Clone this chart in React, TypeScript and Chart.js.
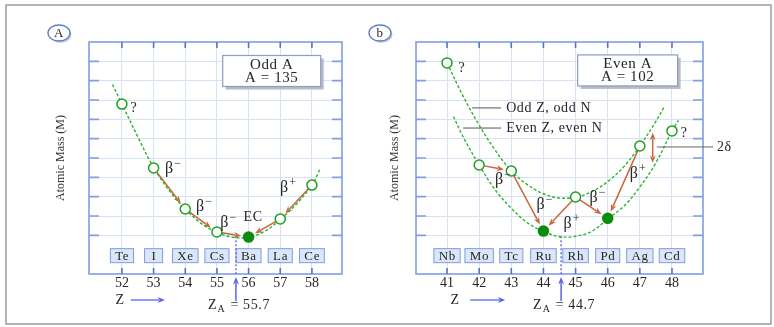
import React, { useEffect, useRef } from 'react';
import { Chart, registerables } from 'chart.js';

Chart.register(...registerables);

const W = 774;
const H = 327;
const FONT = "'Liberation Serif', 'Times New Roman', serif";

// ---------- Panel A : odd A = 135 ----------
const zTicksA = [52, 53, 54, 55, 56, 57, 58];
const elementsA = ['Te', 'I', 'Xe', 'Cs', 'Ba', 'La', 'Ce'];
const massA = [8.79, 5.48, 3.36, 2.17, 1.91, 2.85, 4.6];
const stableA = [false, false, false, false, true, false, false];
const curveAz = [51.7, 52, 52.5, 53, 53.5, 54, 54.5, 55, 55.5, 56, 56.5, 57, 57.5, 58, 58.25];
const curveAm = [9.8, 8.79, 7.1, 5.5, 4.3, 3.36, 2.62, 2.15, 1.9, 1.9, 2.2, 2.82, 3.6, 4.6, 5.4];
const arrowsA = [[1, 2], [2, 3], [3, 4], [6, 5], [5, 4]];
const zAValueA = '55.7';
const zAMarkA = 55.6;

// ---------- Panel B : even A = 102 ----------
const zTicksB = [41, 42, 43, 44, 45, 46, 47, 48];
const elementsB = ['Nb', 'Mo', 'Tc', 'Ru', 'Rh', 'Pd', 'Ag', 'Cd'];
const massB = [10.92, 5.64, 5.33, 2.22, 3.98, 2.88, 6.62, 7.4];
const stableB = [false, false, false, true, false, true, false, false];
const oddOddZ = [41, 41.5, 42, 42.5, 43, 43.5, 44, 44.5, 45, 45.5, 46, 46.5, 47, 47.5, 47.75];
const oddOddM = [10.92, 9.2, 7.7, 6.4, 5.33, 4.62, 4.15, 3.93, 3.97, 4.25, 4.78, 5.55, 6.62, 7.9, 8.62];
const evenEvenZ = [41.2, 41.5, 42, 42.5, 43, 43.5, 44, 44.5, 45, 45.5, 46, 46.5, 47, 47.5, 48, 48.2];
const evenEvenM = [8.15, 7.1, 5.64, 4.35, 3.4, 2.65, 2.2, 1.93, 1.95, 2.2, 2.85, 3.5, 4.5, 5.75, 7.4, 7.95];
const arrowsB = [[1, 2], [2, 3], [4, 3], [4, 5], [6, 5]];
const zAValueB = '44.7';
const zAMarkB = 44.55;

const massGrid = [2, 3, 4, 5, 6, 7, 8, 9, 10, 11];
const massMin = 0;
const massMax = 12;

// ---------- styles ----------
const GRID = '#d7e2f6';
const BORDER = '#819ee3';
const TICK_DARK = '#5474cc';
const GREEN = '#1f9f1f';
const GREEN_FILL = '#0b8c0e';
const CURVE = '#2db42d';
const ARROW = '#c9663f';
const BLUE = '#5563ee';
const TEXT = '#262626';

type Label = { sign?: string; text?: string; z: number; m: number };

type Panel = {
  id: string;
  letter: string;
  letterDx: number;
  frame: boolean;
  zTicks: number[];
  elements: string[];
  mass: number[];
  stable: boolean[];
  curves: { z: number[]; m: number[] }[];
  arrows: number[][];
  labels: Label[];
  title: string[];
  titleBox: { z: number; m: number; w: number; h: number };
  zMin: number;
  zMax: number;
  padLeft: number;
  padRight: number;
  yWidth: number;
  zAMark: number;
  zAValue: string;
  zLabel: number;
  zArrow: [number, number];
  extras?: boolean;
};

const panelA: Panel = {
  id: 'A',
  letter: 'A',
  letterDx: -30,
  frame: true,
  zTicks: zTicksA,
  elements: elementsA,
  mass: massA,
  stable: stableA,
  curves: [{ z: curveAz, m: curveAm }],
  arrows: arrowsA,
  labels: [
    { text: '?', z: 52.38, m: 8.55 },
    { sign: '−', z: 53.61, m: 5.48 },
    { sign: '−', z: 54.59, m: 3.52 },
    { sign: '−', z: 55.35, m: 2.69 },
    { text: 'EC', z: 56.14, m: 2.95 },
    { sign: '+', z: 57.24, m: 4.5 },
  ],
  title: ['Odd A', 'A = 135'],
  titleBox: { z: 56.73, m: 10.5, w: 98, h: 31 },
  zMin: 50.96,
  zMax: 58.95,
  padLeft: 52,
  padRight: W - 342,
  yWidth: 37,
  zAMark: zAMarkA,
  zAValue: zAValueA,
  zLabel: 51.94,
  zArrow: [52.28, 53.36],
};

const panelB: Panel = {
  id: 'B',
  letter: 'b',
  letterDx: -36,
  frame: false,
  zTicks: zTicksB,
  elements: elementsB,
  mass: massB,
  stable: stableB,
  curves: [
    { z: oddOddZ, m: oddOddM },
    { z: evenEvenZ, m: evenEvenM },
  ],
  arrows: arrowsB,
  labels: [
    { text: '?', z: 41.46, m: 10.62 },
    { text: '?', z: 48.38, m: 7.27 },
    { sign: '−', z: 42.74, m: 4.91 },
    { sign: '−', z: 44.03, m: 3.62 },
    { sign: '+', z: 44.87, m: 2.64 },
    { sign: '−', z: 45.68, m: 3.98 },
    { sign: '+', z: 46.93, m: 5.23 },
  ],
  title: ['Even A', 'A = 102'],
  titleBox: { z: 46.62, m: 10.53, w: 100, h: 31 },
  zMin: 40.035,
  zMax: 48.965,
  padLeft: 386,
  padRight: W - 703,
  yWidth: 30,
  zAMark: zAMarkB,
  zAValue: zAValueB,
  zLabel: 41.25,
  zArrow: [41.72, 42.81],
  extras: true,
};

function arrow(ctx: CanvasRenderingContext2D, x1: number, y1: number, x2: number, y2: number, color: string, head = 8, width = 1.5) {
  const ang = Math.atan2(y2 - y1, x2 - x1);
  ctx.save();
  ctx.strokeStyle = color;
  ctx.fillStyle = color;
  ctx.lineWidth = width;
  ctx.setLineDash([]);
  ctx.beginPath();
  ctx.moveTo(x1, y1);
  ctx.lineTo(x2 - Math.cos(ang) * head * 0.7, y2 - Math.sin(ang) * head * 0.7);
  ctx.stroke();
  ctx.beginPath();
  ctx.moveTo(x2, y2);
  ctx.lineTo(x2 - head * Math.cos(ang - 0.38), y2 - head * Math.sin(ang - 0.38));
  ctx.lineTo(x2 - head * 0.65 * Math.cos(ang), y2 - head * 0.65 * Math.sin(ang));
  ctx.lineTo(x2 - head * Math.cos(ang + 0.38), y2 - head * Math.sin(ang + 0.38));
  ctx.closePath();
  ctx.fill();
  ctx.restore();
}

function beta(ctx: CanvasRenderingContext2D, x: number, y: number, sign: string) {
  ctx.save();
  ctx.fillStyle = TEXT;
  ctx.textBaseline = 'middle';
  ctx.textAlign = 'left';
  ctx.font = `16px ${FONT}`;
  const w = ctx.measureText('β').width;
  const x0 = x - (w + 7) / 2;
  ctx.fillText('β', x0, y + 1);
  ctx.font = `12px ${FONT}`;
  ctx.fillText(sign, x0 + w + 0.5, y - 4);
  ctx.restore();
}

function makePlugin(p: Panel) {
  return {
    id: 'annot' + p.id,
    beforeDraw(chart: any) {
      if (!p.frame) return;
      const ctx = chart.ctx as CanvasRenderingContext2D;
      ctx.save();
      ctx.fillStyle = '#ffffff';
      ctx.fillRect(0, 0, W, H);
      ctx.strokeStyle = '#9d9d9d';
      ctx.lineWidth = 1.5;
      ctx.strokeRect(6, 5, 765, 319);
      ctx.restore();
    },
    beforeDatasetsDraw(chart: any) {
      const ctx = chart.ctx as CanvasRenderingContext2D;
      const { left, right, top, bottom } = chart.chartArea;
      const xs = chart.scales.x;
      const ys = chart.scales.y;
      ctx.save();
      // plot border
      ctx.strokeStyle = BORDER;
      ctx.lineWidth = 1.6;
      ctx.strokeRect(left, top, right - left, bottom - top);
      // inward ticks top / bottom
      ctx.strokeStyle = TICK_DARK;
      p.zTicks.forEach((z) => {
        const px = xs.getPixelForValue(z);
        ctx.beginPath();
        ctx.moveTo(px, top);
        ctx.lineTo(px, top + 6);
        ctx.moveTo(px, bottom);
        ctx.lineTo(px, bottom - 6);
        ctx.stroke();
      });
      // inward ticks left / right
      ctx.strokeStyle = BORDER;
      massGrid.forEach((m) => {
        const py = ys.getPixelForValue(m);
        ctx.beginPath();
        ctx.moveTo(left, py);
        ctx.lineTo(left + 10, py);
        ctx.moveTo(right, py);
        ctx.lineTo(right - 10, py);
        ctx.stroke();
      });
      // element boxes
      ctx.font = `13px ${FONT}`;
      ctx.letterSpacing = '0.7px';
      ctx.textAlign = 'center';
      ctx.textBaseline = 'middle';
      p.elements.forEach((el, i) => {
        const px = xs.getPixelForValue(p.zTicks[i]);
        const py = ys.getPixelForValue(1) + 1;
        const tw = ctx.measureText(el).width;
        const bw = Math.max(tw + 9, 18);
        ctx.fillStyle = '#dbe6f9';
        ctx.fillRect(px - bw / 2, py - 7, bw, 14);
        ctx.strokeStyle = '#7f9cdc';
        ctx.lineWidth = 1;
        ctx.strokeRect(px - bw / 2, py - 7, bw, 14);
        ctx.fillStyle = TEXT;
        ctx.fillText(el, px + 0.3, py + 0.5);
      });
      ctx.letterSpacing = '0px';
      // Z_A dotted line
      const mx = xs.getPixelForValue(p.zAMark);
      ctx.strokeStyle = '#6b6bf2';
      ctx.lineWidth = 1.5;
      ctx.setLineDash([2, 2]);
      ctx.beginPath();
      ctx.moveTo(mx, ys.getPixelForValue(1.95));
      ctx.lineTo(mx, bottom);
      ctx.stroke();
      ctx.setLineDash([]);
      // decay arrows
      p.arrows.forEach(([a, b]) => {
        const x1 = xs.getPixelForValue(p.zTicks[a]);
        const y1 = ys.getPixelForValue(p.mass[a]);
        const x2 = xs.getPixelForValue(p.zTicks[b]);
        const y2 = ys.getPixelForValue(p.mass[b]);
        const d = Math.hypot(x2 - x1, y2 - y1);
        const ux = (x2 - x1) / d;
        const uy = (y2 - y1) / d;
        arrow(ctx, x1 + ux * 5, y1 + uy * 5, x2 - ux * 7.5, y2 - uy * 7.5, ARROW);
      });
      ctx.restore();
    },
    afterDatasetsDraw(chart: any) {
      const ctx = chart.ctx as CanvasRenderingContext2D;
      const { left, top, bottom } = chart.chartArea;
      const xs = chart.scales.x;
      const ys = chart.scales.y;
      ctx.save();
      ctx.letterSpacing = '0.6px';
      // labels
      p.labels.forEach((l) => {
        const px = xs.getPixelForValue(l.z);
        const py = ys.getPixelForValue(l.m);
        if (l.sign) {
          beta(ctx, px, py, l.sign);
        } else {
          ctx.fillStyle = TEXT;
          ctx.font = `14px ${FONT}`;
          ctx.textAlign = 'center';
          ctx.textBaseline = 'middle';
          ctx.fillText(l.text || '', px, py);
        }
      });
      // title box
      const bx = xs.getPixelForValue(p.titleBox.z);
      const by = ys.getPixelForValue(p.titleBox.m);
      const { w, h } = p.titleBox;
      ctx.fillStyle = '#b9bcc4';
      ctx.fillRect(bx - w / 2 + 3, by - h / 2 + 3, w, h);
      ctx.fillStyle = '#ffffff';
      ctx.fillRect(bx - w / 2, by - h / 2, w, h);
      ctx.strokeStyle = '#8c9cc2';
      ctx.lineWidth = 1.2;
      ctx.strokeRect(bx - w / 2, by - h / 2, w, h);
      ctx.fillStyle = TEXT;
      ctx.font = `15px ${FONT}`;
      ctx.textAlign = 'center';
      ctx.textBaseline = 'middle';
      ctx.fillText(p.title[0], bx, by - 6);
      ctx.fillText(p.title[1], bx, by + 7);

      if (p.extras) {
        // curve legend
        ctx.font = `14px ${FONT}`;
        ctx.strokeStyle = '#555';
        ctx.lineWidth = 1;
        const tx = xs.getPixelForValue(42.84);
        const l1 = ys.getPixelForValue(8.59);
        const l2 = ys.getPixelForValue(7.55);
        ctx.beginPath();
        ctx.moveTo(xs.getPixelForValue(41.78), l1);
        ctx.lineTo(xs.getPixelForValue(42.68), l1);
        ctx.moveTo(xs.getPixelForValue(41.5), l2);
        ctx.lineTo(xs.getPixelForValue(42.68), l2);
        ctx.stroke();
        ctx.textAlign = 'left';
        ctx.fillText('Odd Z, odd N', tx, l1);
        ctx.fillText('Even Z, even N', tx, l2);
        // 2δ
        const dx = xs.getPixelForValue(47.4);
        const dTop = ys.getPixelForValue(7.3);
        const dBot = ys.getPixelForValue(5.75);
        const dMid = (dTop + dBot) / 2;
        arrow(ctx, dx, dMid, dx, dTop, ARROW, 8);
        arrow(ctx, dx, dMid, dx, dBot, ARROW, 8);
        const ly = ys.getPixelForValue(6.57);
        ctx.strokeStyle = '#666';
        ctx.lineWidth = 1;
        ctx.beginPath();
        ctx.moveTo(xs.getPixelForValue(47.53), ly);
        ctx.lineTo(xs.getPixelForValue(49.28), ly);
        ctx.stroke();
        ctx.fillStyle = TEXT;
        ctx.textAlign = 'left';
        ctx.fillText('2δ', xs.getPixelForValue(49.4), ly);
      }

      // panel letter
      const cx = left + p.letterDx;
      const cy = top - 9;
      ctx.fillStyle = '#c4c8d4';
      ctx.beginPath();
      ctx.ellipse(cx + 1.5, cy + 1.8, 11, 8, 0, 0, Math.PI * 2);
      ctx.fill();
      ctx.fillStyle = '#fff';
      ctx.strokeStyle = '#5c7bc9';
      ctx.lineWidth = 1.3;
      ctx.beginPath();
      ctx.ellipse(cx, cy, 11, 8, 0, 0, Math.PI * 2);
      ctx.fill();
      ctx.stroke();
      ctx.fillStyle = TEXT;
      ctx.font = `13px ${FONT}`;
      ctx.textAlign = 'center';
      ctx.textBaseline = 'middle';
      ctx.fillText(p.letter, cx, cy + 0.5);

      // Z axis arrow label
      ctx.font = `14px ${FONT}`;
      ctx.fillText('Z', xs.getPixelForValue(p.zLabel), bottom + 26);
      arrow(ctx, xs.getPixelForValue(p.zArrow[0]), bottom + 26, xs.getPixelForValue(p.zArrow[1]), bottom + 26, BLUE, 8, 1.3);

      // Z_A marker
      const mx = xs.getPixelForValue(p.zAMark);
      arrow(ctx, mx, bottom + 27, mx, bottom + 3, BLUE, 8, 1.5);
      const ty = bottom + 31;
      ctx.textAlign = 'left';
      ctx.font = `14px ${FONT}`;
      let x0 = mx - 28;
      ctx.fillText('Z', x0, ty);
      x0 += ctx.measureText('Z').width + 0.5;
      ctx.font = `10px ${FONT}`;
      ctx.fillText('A', x0, ty + 4);
      x0 += ctx.measureText('A').width + 1;
      ctx.font = `14px ${FONT}`;
      ctx.fillText(' = ' + p.zAValue, x0, ty);
      ctx.restore();
    },
  };
}

function PanelChart({ panel }: { panel: Panel }) {
  const ref = useRef<HTMLCanvasElement>(null);
  useEffect(() => {
    const p = panel;
    const pointData = p.zTicks.map((z, i) => ({ x: z, y: p.mass[i] }));
    const chart = new Chart(ref.current as HTMLCanvasElement, {
      type: 'line',
      data: {
        datasets: [
          {
            data: pointData,
            showLine: false,
            pointRadius: 5,
            pointBorderWidth: 1.5,
            pointBackgroundColor: p.stable.map((s) => (s ? GREEN_FILL : '#ffffff')),
            pointBorderColor: p.stable.map((s) => (s ? GREEN_FILL : GREEN)),
          } as any,
          ...p.curves.map((c) => ({
            data: c.z.map((z, i) => ({ x: z, y: c.m[i] })),
            borderColor: CURVE,
            borderWidth: 1.4,
            borderDash: [3, 2],
            pointRadius: 0,
            tension: 0.35,
            fill: false,
          })),
        ],
      },
      options: {
        animation: false,
        responsive: false,
        devicePixelRatio: 1,
        events: [],
        layout: { padding: { left: p.padLeft, right: p.padRight, top: 42, bottom: 0 } },
        plugins: { legend: { display: false }, tooltip: { enabled: false } },
        scales: {
          x: {
            type: 'linear',
            min: p.zMin,
            max: p.zMax,
            afterBuildTicks: (s: any) => {
              s.ticks = p.zTicks.map((v) => ({ value: v }));
            },
            afterFit: (s: any) => {
              s.height = 53;
            },
            grid: { color: GRID, drawTicks: false, lineWidth: 1 },
            border: { display: false },
            ticks: {
              font: { family: FONT, size: 14 },
              color: TEXT,
              padding: 1,
              maxRotation: 0,
              autoSkip: false,
              callback: (v: any) => String(v),
            },
          },
          y: {
            type: 'linear',
            min: massMin,
            max: massMax,
            afterBuildTicks: (s: any) => {
              s.ticks = massGrid.map((v) => ({ value: v }));
            },
            afterFit: (s: any) => {
              s.width = p.yWidth;
            },
            grid: { color: GRID, drawTicks: false, lineWidth: 1 },
            border: { display: false },
            ticks: { display: false },
            title: {
              display: true,
              text: 'Atomic Mass (M)',
              font: { family: FONT, size: 12 },
              color: '#333',
              padding: { top: 2, bottom: 0 },
            },
          },
        },
      } as any,
      plugins: [makePlugin(p) as any],
    });
    return () => chart.destroy();
  }, [panel]);
  return (
    <canvas
      ref={ref}
      width={W}
      height={H}
      style={{ position: 'absolute', left: 0, top: 0, width: W, height: H }}
    />
  );
}

export default function App() {
  return (
    <div style={{ position: 'absolute', left: 0, top: 0, width: W, height: H, background: '#ffffff' }}>
      <PanelChart panel={panelA} />
      <PanelChart panel={panelB} />
    </div>
  );
}
